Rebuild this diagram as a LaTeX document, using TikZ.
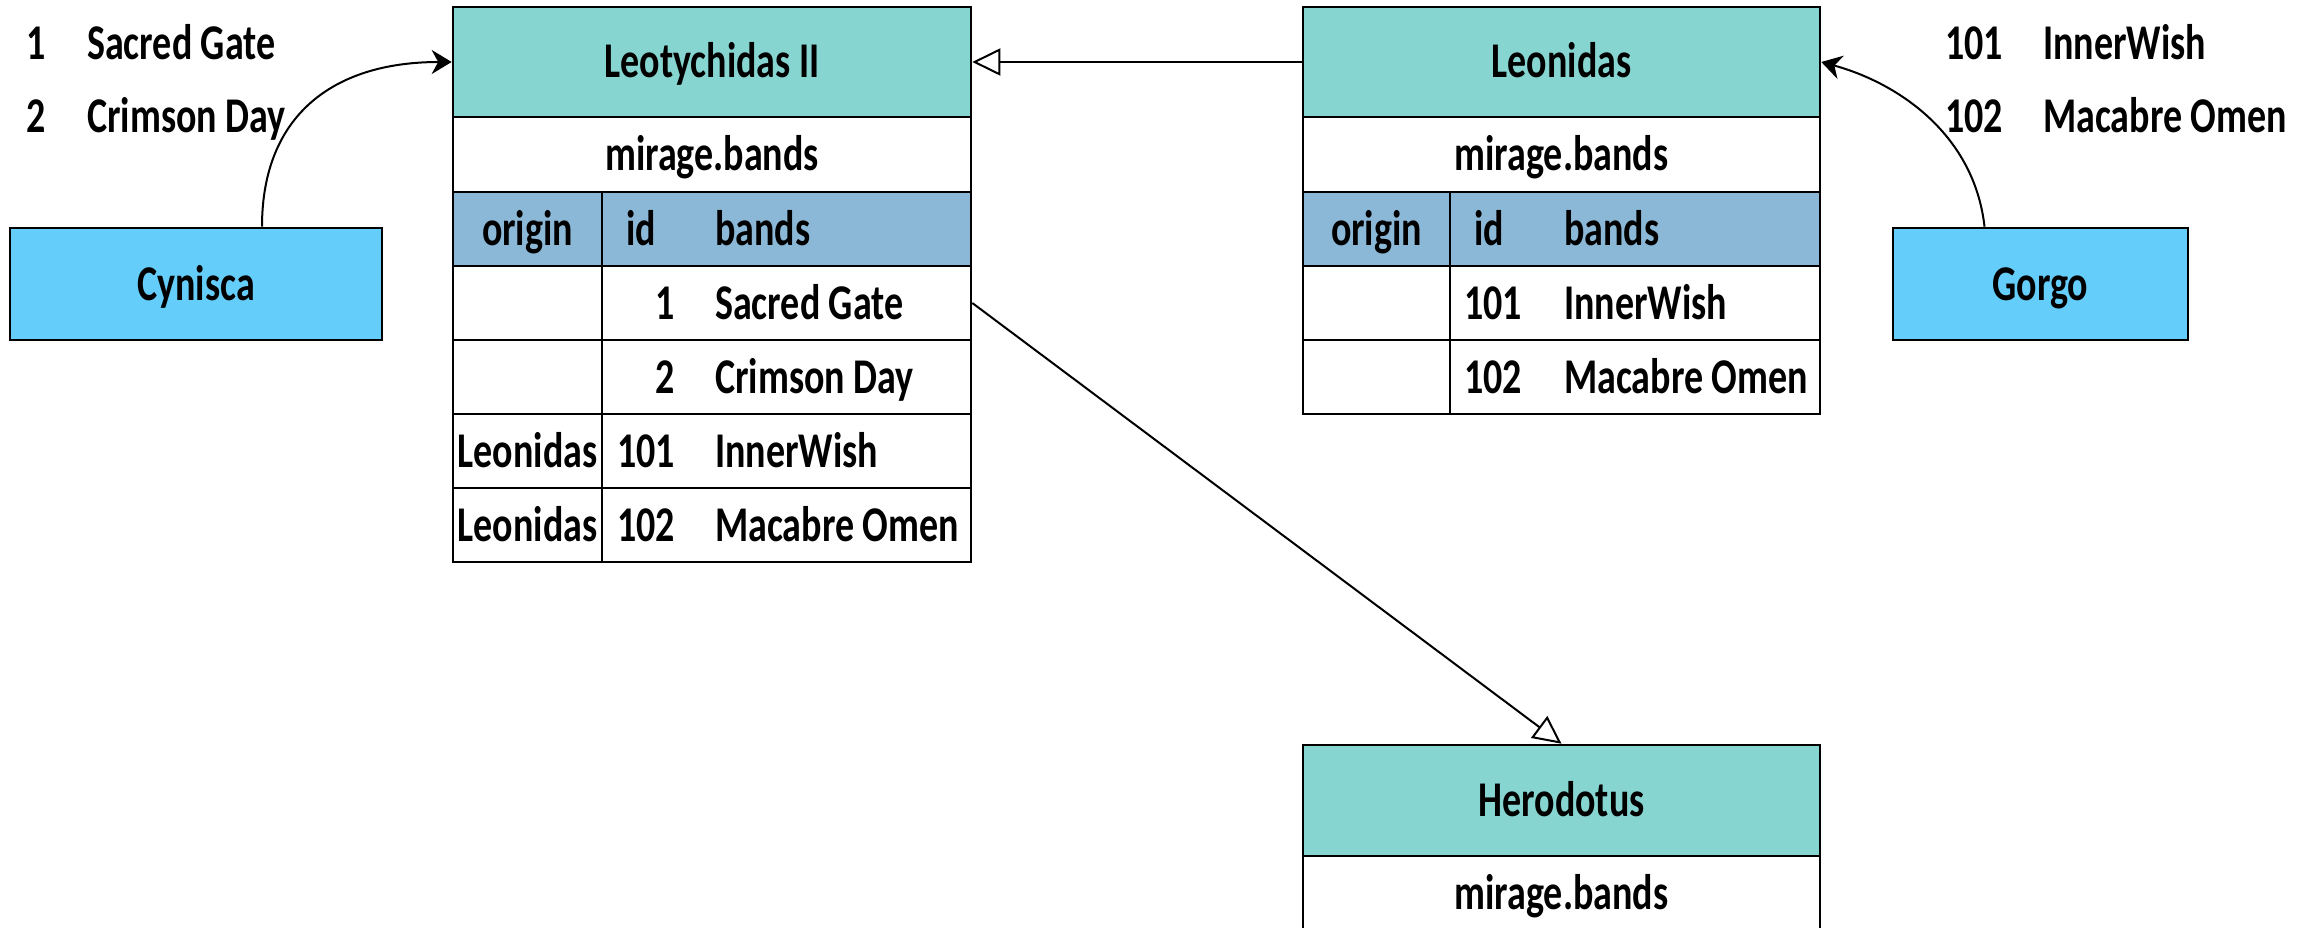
\documentclass[tikz,border=0pt]{standalone}
\usepackage{fontspec}
\setmainfont{Carlito}[FakeStretch=0.76]
\usetikzlibrary{arrows.meta}
\definecolor{headteal}{HTML}{86D5D1}
\definecolor{colblue}{HTML}{8BB8D6}
\definecolor{actorblue}{HTML}{64CDFA}
\begin{document}
\begin{tikzpicture}[x=1pt,y=-1pt]
        \tikzset{
            txt/.style={inner sep=0pt,text height=32pt,text depth=0pt,font=\fontsize{50}{60}\bfseries},
            cell/.style={txt,rectangle,draw=black,fill=white,line width=2.6pt,minimum height=74},
            headcell/.style={cell,fill=headteal,minimum height=110},
            colcell/.style={cell,fill=colblue},
            actor/.style={cell,fill=actorblue,minimum height=112},
            link/.style={line width=2pt,-{Triangle[open,length=28pt,width=27pt]}},
            uses/.style={line width=2pt,-{Stealth[length=20pt,width=24pt]}},
        }
        \useasboundingbox (0,0) rectangle (2314,928);
        \clip (0,0) rectangle (2314,928);

        \node[headcell,minimum width=518] (leo) at (712,62) {Leotychidas II};
        \node[cell,minimum width=518,minimum height=75] (leoSchema) at (712,154.5) {mirage.bands};
        \node[colcell,minimum width=149] (leoOrigin) at (527.5,229) {origin};
        \node[colcell,minimum width=369] (leoCols) at (786.5,229) {};
        \node[cell,minimum width=149] (leoO1) at (527.5,303) {};
        \node[cell,minimum width=369] (leoB1) at (786.5,303) {};
        \node[cell,minimum width=149] (leoO2) at (527.5,377) {};
        \node[cell,minimum width=369] (leoB2) at (786.5,377) {};
        \node[cell,minimum width=149] (leoO3) at (527.5,451) {Leonidas};
        \node[cell,minimum width=369] (leoB3) at (786.5,451) {};
        \node[cell,minimum width=149] (leoO4) at (527.5,525) {Leonidas};
        \node[cell,minimum width=369] (leoB4) at (786.5,525) {};
        \node[txt,anchor=west] (leoIdHead) at (626,229) {id};
        \node[txt,anchor=west] (leoBandHead) at (715,229) {bands};
        \node[txt,anchor=east] (leoId1) at (675,303) {1};
        \node[txt,anchor=west] (leoBand1) at (715,303) {Sacred Gate};
        \node[txt,anchor=east] (leoId2) at (675,377) {2};
        \node[txt,anchor=west] (leoBand2) at (715,377) {Crimson Day};
        \node[txt,anchor=east] (leoId3) at (675,451) {101};
        \node[txt,anchor=west] (leoBand3) at (715,451) {InnerWish};
        \node[txt,anchor=east] (leoId4) at (675,525) {102};
        \node[txt,anchor=west] (leoBand4) at (715,525) {Macabre Omen};

        \node[headcell,minimum width=517] (leon) at (1561.5,62) {Leonidas};
        \node[cell,minimum width=517,minimum height=75] (leonSchema) at (1561.5,154.5) {mirage.bands};
        \node[colcell,minimum width=147] (leonOrigin) at (1376.5,229) {origin};
        \node[colcell,minimum width=370] (leonCols) at (1635,229) {};
        \node[cell,minimum width=147] (leonO1) at (1376.5,303) {};
        \node[cell,minimum width=370] (leonB1) at (1635,303) {};
        \node[cell,minimum width=147] (leonO2) at (1376.5,377) {};
        \node[cell,minimum width=370] (leonB2) at (1635,377) {};
        \node[txt,anchor=west] (leonIdHead) at (1474,229) {id};
        \node[txt,anchor=west] (leonBandHead) at (1564,229) {bands};
        \node[txt,anchor=east] (leonId1) at (1522,303) {101};
        \node[txt,anchor=west] (leonBand1) at (1564,303) {InnerWish};
        \node[txt,anchor=east] (leonId2) at (1522,377) {102};
        \node[txt,anchor=west] (leonBand2) at (1564,377) {Macabre Omen};

        \node[headcell,minimum width=517,minimum height=111] (hero) at (1561.5,800.5) {Herodotus};
        \node[cell,minimum width=517,minimum height=75] (heroSchema) at (1561.5,893.5) {mirage.bands};

        \node[actor,minimum width=372] (cyn) at (196,284) {Cynisca};
        \node[actor,minimum width=295] (gorgo) at (2040.5,284) {Gorgo};

        \node[txt,anchor=east] (cynId1) at (46,44) {1};
        \node[txt,anchor=west] (cynBand1) at (87,44) {Sacred Gate};
        \node[txt,anchor=east] (cynId2) at (46,117) {2};
        \node[txt,anchor=west] (cynBand2) at (87,117) {Crimson Day};
        \node[txt,anchor=east] (gorgoId1) at (2003,44) {101};
        \node[txt,anchor=west] (gorgoBand1) at (2043,44) {InnerWish};
        \node[txt,anchor=east] (gorgoId2) at (2003,117) {102};
        \node[txt,anchor=west] (gorgoBand2) at (2043,117) {Macabre Omen};

        \draw[uses] ([xshift=66pt]cyn.north) .. controls +(0,-110) and +(-120,0) .. (leo.west);
        \draw[uses] ([xshift=-56pt]gorgo.north) .. controls +(-10,-90) and +(80,22) .. (leon.east);
        \draw[link] (leon.west) -- (leo.east);
        \draw[link] (leoB1.east) -- (hero.north);
    \end{tikzpicture}
\end{document}
